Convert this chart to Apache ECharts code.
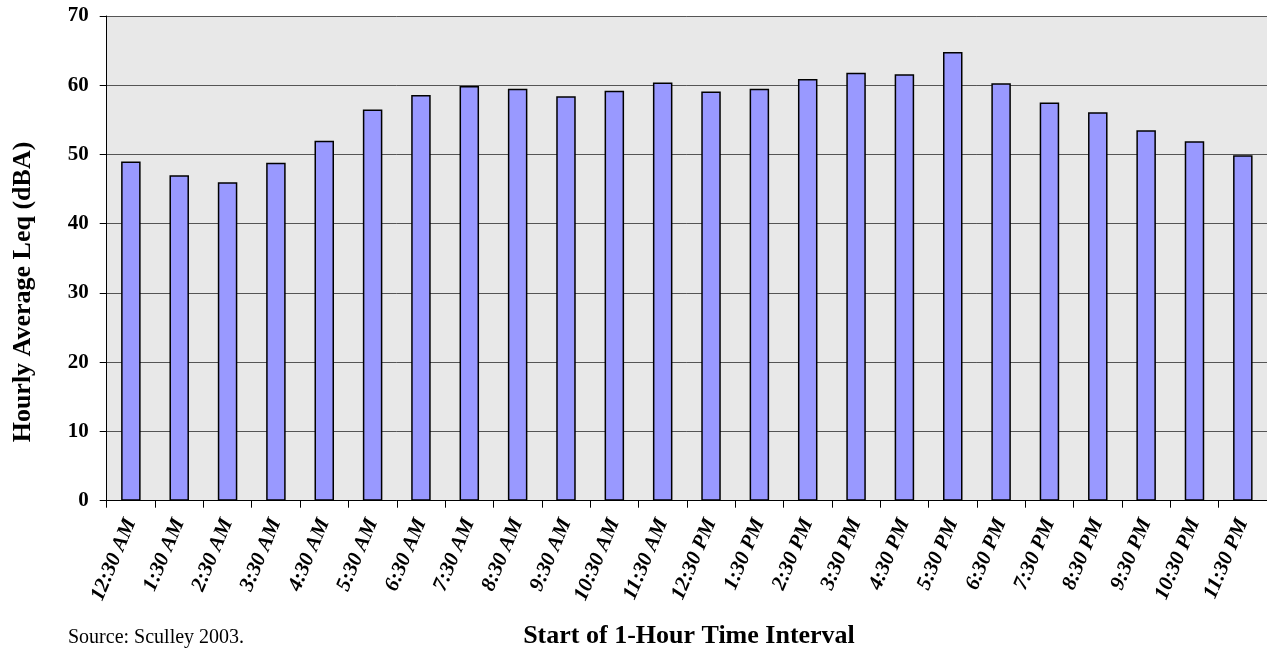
<!DOCTYPE html>
<html>
<head>
<meta charset="utf-8">
<script src="https://cdn.jsdelivr.net/npm/echarts@6/dist/echarts.min.js"></script>
<style>
  html, body { margin: 0; padding: 0; background: #fff; }
  #chart { width: 1267px; height: 650px; }
</style>
</head>
<body>
<div id="chart"></div>
<script>
// start of each 1-hour interval
const hours = [
  '12:30 AM', '1:30 AM', '2:30 AM', '3:30 AM', '4:30 AM', '5:30 AM',
  '6:30 AM', '7:30 AM', '8:30 AM', '9:30 AM', '10:30 AM', '11:30 AM',
  '12:30 PM', '1:30 PM', '2:30 PM', '3:30 PM', '4:30 PM', '5:30 PM',
  '6:30 PM', '7:30 PM', '8:30 PM', '9:30 PM', '10:30 PM', '11:30 PM'
];
// hourly average Leq (dBA)
const leq = [
  49.0, 47.0, 46.0, 48.8, 52.0, 56.5,
  58.6, 59.9, 59.5, 58.4, 59.2, 60.4,
  59.1, 59.5, 60.9, 61.8, 61.6, 64.8,
  60.3, 57.5, 56.1, 53.5, 51.9, 49.9
];
const yTicks = { min: 0, max: 70, interval: 10 };

const serif = '"Liberation Serif", "DejaVu Serif", serif';

const chart = echarts.init(document.getElementById('chart'));

chart.setOption({
  animation: false,
  grid: {
    left: 106.7,
    top: 16,
    width: 1166,
    height: 484.7,
    show: true,
    backgroundColor: '#E8E8E8',
    borderWidth: 0
  },
  xAxis: {
    type: 'category',
    data: hours,
    boundaryGap: true,
    axisLine: { lineStyle: { color: '#000', width: 1 } },
    axisTick: { show: true, length: 7, alignWithLabel: false, lineStyle: { color: '#000' } },
    axisLabel: {
      interval: 0,
      rotate: 67,
      margin: 19,
      color: '#000',
      fontFamily: serif,
      fontSize: 21,
      fontWeight: 'bold',
      fontStyle: 'italic'
    }
  },
  yAxis: {
    type: 'value',
    min: yTicks.min,
    max: yTicks.max,
    interval: yTicks.interval,
    axisLine: { show: true, lineStyle: { color: '#000', width: 1 } },
    axisTick: { show: true, length: 7, lineStyle: { color: '#000' } },
    axisLabel: {
      margin: 18,
      color: '#000',
      fontFamily: serif,
      fontSize: 21,
      fontWeight: 'bold'
    },
    splitLine: { show: true, lineStyle: { color: '#555', width: 1 } }
  },
  series: [{
    type: 'bar',
    data: leq,
    barWidth: 19.5,
    itemStyle: {
      color: '#9999FF',
      borderColor: '#000',
      borderWidth: 1.5
    }
  }],
  graphic: [
    {
      type: 'text',
      x: 23,
      y: 292,
      rotation: Math.PI / 2,
      style: {
        text: 'Hourly Average Leq (dBA)',
        fill: '#000',
        font: 'bold 26px ' + serif,
        align: 'center',
        verticalAlign: 'middle'
      }
    },
    {
      type: 'text',
      x: 689,
      y: 636,
      style: {
        text: 'Start of 1-Hour Time Interval',
        fill: '#000',
        font: 'bold 26px ' + serif,
        align: 'center',
        verticalAlign: 'middle'
      }
    },
    {
      type: 'text',
      x: 68,
      y: 638,
      style: {
        text: 'Source: Sculley 2003.',
        fill: '#000',
        font: '20px ' + serif,
        align: 'left',
        verticalAlign: 'middle'
      }
    }
  ]
});
</script>
</body>
</html>
